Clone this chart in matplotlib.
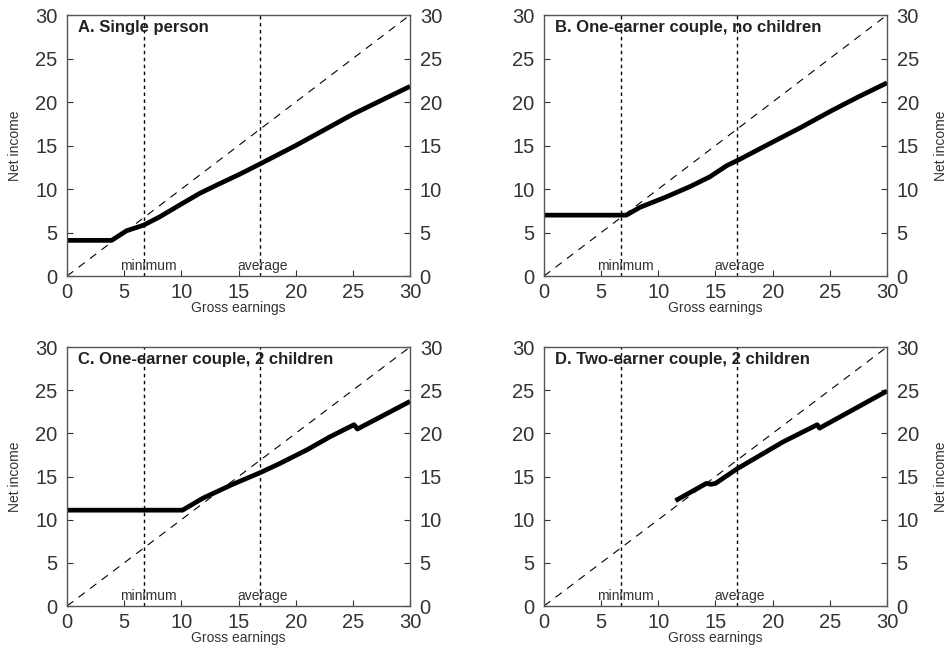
import numpy as np
import matplotlib
matplotlib.use("Agg")
import matplotlib.pyplot as plt

plt.rcParams['font.family'] = ['Liberation Sans', 'DejaVu Sans']

# net income schedules (gross earnings, net income)
titles = ["A. Single person", "B. One-earner couple, no children",
          "C. One-earner couple, 2 children", "D. Two-earner couple, 2 children"]

a_x = [0, 3.9, 5.2, 6.7, 8.1, 9.9, 11.6, 13.4, 15.1, 16.9, 20, 22.5, 25, 27.5, 30]
a_y = [4.1, 4.1, 5.2, 5.85, 6.8, 8.2, 9.5, 10.65, 11.7, 12.9, 15.0, 16.8, 18.6, 20.2, 21.8]

b_x = [0, 7.2, 8.4, 10.7, 12.8, 14.5, 16.0, 17.1, 20, 22.5, 25, 27.5, 30]
b_y = [7.0, 7.0, 7.9, 9.1, 10.3, 11.4, 12.7, 13.4, 15.4, 17.1, 18.9, 20.6, 22.2]

c_x = [0, 10.1, 11.9, 14.5, 16.9, 18.6, 21.0, 23.0, 25.1, 25.4, 30]
c_y = [11.1, 11.1, 12.5, 14.1, 15.45, 16.5, 18.1, 19.6, 21.0, 20.5, 23.7]

d_x = [11.5, 14.2, 14.6, 15.0, 16.9, 20.9, 23.9, 24.1, 30]
d_y = [12.2, 14.2, 14.1, 14.2, 15.9, 19.0, 21.0, 20.6, 24.9]

series = [(a_x, a_y), (b_x, b_y), (c_x, c_y), (d_x, d_y)]

min_wage = 6.7
avg_wage = 16.9
ticks = [0, 5, 10, 15, 20, 25, 30]

fig = plt.figure(figsize=(9.52, 6.48), dpi=100)

boxes = [
    [0.0704, 0.574, 0.3603, 0.4028],
    [0.5714, 0.574, 0.3603, 0.4028],
    [0.0704, 0.0648, 0.3603, 0.3997],
    [0.5714, 0.0648, 0.3603, 0.3997],
]

grey = "#333333"

for i, (box, (xs, ys), title) in enumerate(zip(boxes, series, titles)):
    ax = fig.add_axes(box)
    ax.set_xlim(0, 30)
    ax.set_ylim(0, 30)

    # 45 degree line
    ax.plot(ticks, ticks, color="black", lw=0.8, dashes=(7, 6))
    # minimum and average wage
    ax.axvline(min_wage, color="black", lw=1.0, dashes=(2.5, 2.5))
    ax.axvline(avg_wage, color="black", lw=1.0, dashes=(2.5, 2.5))
    ax.text(min_wage + 0.4, 0.3, "minimum", ha="center", va="bottom",
            fontsize=10, color=grey)
    ax.text(avg_wage + 0.2, 0.3, "average", ha="center", va="bottom",
            fontsize=10, color=grey)

    ax.plot(xs, ys, color="black", lw=3.4, solid_capstyle="butt")

    ax.text(1.0, 28.6, title, fontsize=12, fontweight="bold", color="#222222",
            va="center", ha="left")

    ax.set_xticks(ticks)
    ax.set_yticks(ticks)
    ax.tick_params(axis="both", direction="in", length=4, width=0.8,
                   labelsize=14.5, colors=grey)
    ax.tick_params(axis="x", top=False, pad=5)
    ax.tick_params(axis="y", left=True, right=True, labelleft=True,
                   labelright=True, pad=7)
    for s in ax.spines.values():
        s.set_color("#555555")
        s.set_linewidth(1.0)

    ax.set_xlabel("Gross earnings", fontsize=10, color=grey, labelpad=-1)
    if i % 2 == 0:
        ax.set_ylabel("Net income", fontsize=10, color=grey, labelpad=9)
    else:
        ax.yaxis.set_label_position("right")
        ax.set_ylabel("Net income", fontsize=10, color=grey, labelpad=11)

fig.savefig("out.png", dpi=100)
